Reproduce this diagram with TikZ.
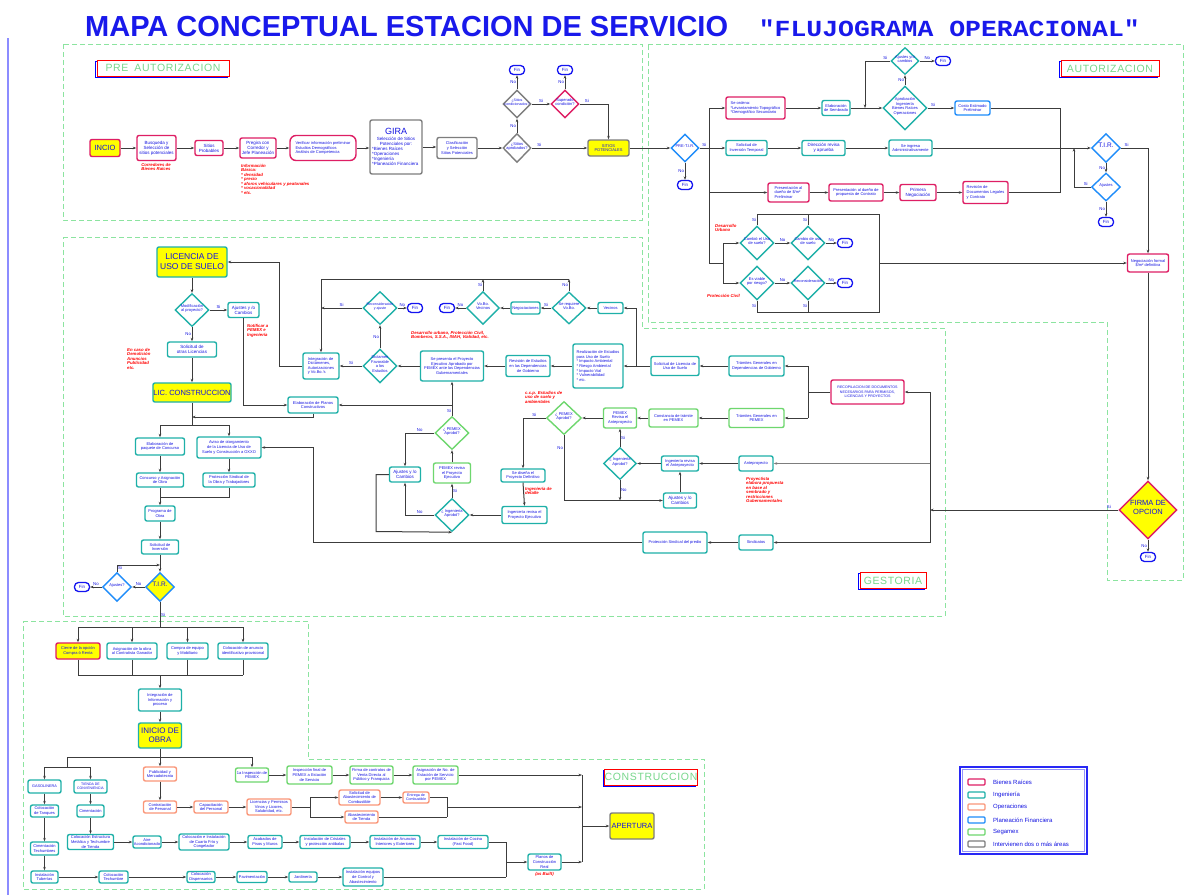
\documentclass[tikz,border=0pt]{standalone}
\usepackage{fontspec}
\setmainfont{Liberation Sans}
\setmonofont{Liberation Mono}
\usetikzlibrary{shapes.geometric,arrows.meta}
\definecolor{cBR}{RGB}{222,30,100}
\definecolor{cIng}{RGB}{30,176,168}
\definecolor{cOp}{RGB}{250,150,120}
\definecolor{cPF}{RGB}{30,140,250}
\definecolor{cSeg}{RGB}{110,215,110}
\definecolor{cGr}{RGB}{125,125,125}
\definecolor{cT}{RGB}{20,20,225}
\definecolor{cFin}{RGB}{20,20,240}
\definecolor{cY}{RGB}{255,255,0}
\definecolor{cL}{RGB}{60,60,60}
\definecolor{cFr}{RGB}{140,228,160}
\definecolor{cRT}{RGB}{120,215,140}
\definecolor{cTi}{RGB}{25,25,235}
\definecolor{cLg}{RGB}{40,40,245}
\definecolor{cLb}{RGB}{140,140,255}
\newcommand{\bxf}{\fontsize{4.5}{5.1}\selectfont}
\newcommand{\bxs}{\fontsize{4}{4.6}\selectfont}
\newcommand{\dgf}{\fontsize{4}{4.6}\selectfont}
\newcommand{\ntf}{\fontsize{4.3}{4.5}\selectfont\bfseries\itshape}
\newcommand{\dtx}[1]{\makebox[0pt]{\smash{\begin{tabular}{@{}c@{}}#1\end{tabular}}}}
\begin{document}
\begin{tikzpicture}[x=1pt,y=-1pt,
 sz/.style 2 args={minimum width=#1pt, minimum height=#2pt},
 bx/.style={rectangle, rounded corners=2pt, line width=1.4pt, fill=white, text=cT, font=\bxf, align=center, inner sep=0.5pt},
 br/.style={bx, draw=cBR}, ing/.style={bx, draw=cIng}, op/.style={bx, draw=cOp},
 pf/.style={bx, draw=cPF}, sg/.style={bx, draw=cSeg}, gr/.style={bx, draw=cGr},
 dm/.style={diamond, line width=1.4pt, fill=white, text=cT, font=\dgf, inner sep=0pt},
 fin/.style={rectangle, rounded corners=4pt, draw=cFin, line width=1.3pt, fill=white, text=cT, font=\bxf, minimum width=15pt, minimum height=9pt, inner sep=0pt},
 ar/.style={draw=cL, line width=1pt, -{Stealth[length=3.5pt,width=2.6pt]}},
 ln/.style={draw=cL, line width=1pt},
 lb/.style={text=cT, font=\fontsize{4.3}{4.3}\selectfont, inner sep=0.6pt},
 nt/.style={text=red, font=\ntf, align=left, inner sep=0pt},
 reg/.style={draw=cFr, line width=0.9pt, dash pattern=on 5pt off 3pt},
 rlabB/.style={draw=blue, line width=0.9pt, minimum height=16pt, inner sep=0},
 rlab/.style={draw=red, line width=0.8pt, fill=white, minimum height=16pt, inner sep=0, text=cRT, font=\fontsize{10.5}{11}\selectfont\addfontfeature{LetterSpace=6}}
]
\fill[white] (0,0) rectangle (1186,895);
\useasboundingbox (0,0) rectangle (1186,895);

% ---------- frames ----------
\draw[reg] (63,44) rectangle (642,220);
\draw[reg] (648,44) -- (1183,44) -- (1183,580) -- (1107,580) -- (1107,322) -- (648,322) -- cycle;
\draw[reg] (63,237) -- (642,237) -- (642,328) -- (945,328) -- (945,616) -- (63,616) -- cycle;
\draw[reg] (23,621) -- (308,621) -- (308,759) -- (704,759) -- (704,889) -- (23,889) -- cycle;
\draw[cLb, line width=1.5pt] (8,38) -- (8,895);

% ---------- title ----------
\node[anchor=west, text=cTi, font=\fontsize{29}{30}\selectfont\bfseries, inner sep=0] (t1) at (85,27) {MAPA CONCEPTUAL ESTACION DE SERVICIO};
\node[anchor=east, text=cTi, font=\fontsize{23}{24}\selectfont\ttfamily\bfseries, inner sep=0] (t2) at (1140,28) {\scalebox{1.15}[1]{"FLUJOGRAMA OPERACIONAL"}};

% ---------- region labels ----------
\node[rlabB, minimum width=132pt] (lpreB) at (161.7,69.3) {};
\node[rlab, minimum width=132pt] (lpre) at (163,68) {PRE\hspace{6pt}AUTORIZACION};
\node[rlabB, minimum width=98pt] (lautB) at (1108.7,69.8) {};
\node[rlab, minimum width=98pt] (laut) at (1110,68.5) {AUTORIZACION};
\node[rlabB, minimum width=66pt] (lgesB) at (891.7,581.8) {};
\node[rlab, minimum width=66pt] (lges) at (893,580.5) {GESTORIA};
\node[rlabB, minimum width=92pt] (lconB) at (649.7,778.3) {};
\node[rlab, minimum width=92pt] (lcon) at (651,777) {CONSTRUCCION};

% ================= PRE AUTORIZACION =================
\node[br, fill=cY, sz={30}{17}, font=\fontsize{7.5}{8}\selectfont] (inicio) at (105,148) {INCIO};
\node[br, sz={39}{25}] (busq) at (156.5,148) {Busqueda y\\Selección de\\sitios potenciales};
\node[br, sz={28}{15}] (sitprob) at (209,148) {Sitios\\Probables};
\node[br, sz={36}{20}] (pregira) at (258,148) {Pregira con\\Corredor y\\Jefe Planeación};
\node[br, sz={66}{25}, rounded corners=6pt, align=left, font=\bxs] (verif) at (323,148) {Verificar información preliminar\\Estudios Demográficos\\Análisis de Competencia};
\node[gr, sz={52}{54}] (gira) at (396,147) {\parbox{48pt}{\centering{\fontsize{9}{10}\selectfont GIRA}\\[1pt]Selección de Sitios\\Potenciales por:\par\raggedright{}*Bienes Raíces\\{}*Operaciones\\{}*Ingeniería\\{}*Planeación Financiera}};
\node[gr, sz={40}{21}, font=\bxs] (clasif) at (457,148) {Clasificación\\y Selección\\Sitios Potenciales};
\node[dm, draw=cGr, sz={28}{29}] (dapr) at (517,148) {\dtx{¿Sitios\\aprobados?}};
\node[dm, draw=cGr, sz={28}{28}, font=\fontsize{3.6}{4.2}\selectfont] (dcond) at (517,104) {\dtx{¿Sitios\\condicionados?}};
\node[dm, draw=cBR, sz={28}{28}] (dsup) at (565,104) {\dtx{Superado\\condición?}};
\node[fin] (fin1) at (517,70) {Fin};
\node[fin] (fin2) at (565,70) {Fin};
\node[gr, fill=cY, sz={41}{16}, font=\bxs] (sitpot) at (608.5,148) {SITIOS\\POTENCIALES};
\node[nt, align=center, anchor=north] (n1) at (156,163) {Corredores de\\Bienes Raíces};
\node[nt, anchor=north west] (n2) at (241,164) {Información\\Básica:\\{}* densidad\\{}* precio\\{}* aforos vehiculares y peatonales\\{}* vocacionalidad\\{}* etc.};

\draw[ar] (inicio.east) -- (busq.west);
\draw[ar] (busq.east) -- (sitprob.west);
\draw[ar] (sitprob.east) -- (pregira.west);
\draw[ar] (pregira.east) -- (verif.west);
\draw[ar] (verif.east) -- (verif.east -| gira.west);
\draw[ar] (gira.east) -- (gira.east -| clasif.west);
\draw[ar] (clasif.east) -- (dapr.west);
\draw[ar] (dapr.east) -- node[lb, pos=0.08, above right]{Si} (sitpot.west);
\draw[ar] (dapr.north) -- node[lb, left]{No} (dcond.south);
\draw[ar] (dcond.north) -- node[lb, left]{No} (fin1.south);
\draw[ar] (dcond.east) -- node[lb, above]{Si} (dsup.west);
\draw[ar] (dsup.north) -- node[lb, left]{No} (fin2.south);
\draw[ar] (dsup.east) -- node[lb, above, pos=0.25]{Si} (608.5,104) -- (sitpot.north);

% ================= AUTORIZACION =================
\node[dm, draw=cPF, sz={28}{28}] (pretir) at (685,148) {\dtx{PRE-T.I.R.}};
\node[fin] (fin3) at (685,185) {Fin};
\node[br, sz={59}{22}, align=left, font=\bxs] (ordena) at (755.5,108) {Se ordena:\\{}*Levantamiento Topográfico\\{}*Demográfico Secundario};
\node[ing, sz={28}{15}, font=\bxs] (sembr) at (836,108) {Elaboración\\de Sembrado};
\node[dm, draw=cIng, sz={44}{44}] (daprob) at (905,108) {\dtx{Aprobación\\Ingeniería\\Bienes Raíces\\Operaciones}};
\node[dm, draw=cIng, sz={28}{27}] (dajus1) at (905,61) {\dtx{Ajustes y/o\\cambios}};
\node[fin] (fin4) at (943,61) {Fin};
\node[pf, sz={35}{14}, font=\bxs] (costo) at (972.5,108) {Costo Estimado\\Preliminar};
\node[ing, sz={41}{15}, font=\bxs] (solinv) at (746.5,148) {Solicitud de\\Inversión Temporal};
\node[ing, sz={43}{15}] (dirrev) at (823.5,148) {Dirección revisa\\y aprueba};
\node[ing, sz={43}{16}, font=\bxs] (ingadm) at (910.5,148) {Se ingresa\\Administrativamente};
\node[dm, draw=cPF, sz={29}{29}, font=\fontsize{6.5}{7}\selectfont] (tir) at (1106,148) {\dtx{T.I.R.}};
\node[dm, draw=cPF, sz={29}{28}] (dajus2) at (1106,187) {\dtx{Ajustes}};
\node[fin] (fin5) at (1106,222) {Fin};
\node[br, sz={41}{19}, align=left, font=\bxs] (pres1) at (788.5,192.5) {Presentación al\\dueño de \$/m²\\Preliminar};
\node[br, sz={54}{17}, font=\bxs] (pres2) at (856,192.5) {Presentación al dueño de\\propuesta de Contrato};
\node[br, sz={36}{16}] (primneg) at (918,192.5) {Primera\\Negociación};
\node[br, sz={45}{22}, align=left, font=\bxs] (revdoc) at (985.5,192.5) {Revisión de\\Documentos Legales\\y Contrato};
\node[br, sz={41}{18}, font=\bxs] (negform) at (1148,263) {Negociación formal\\\$/m² definitiva};
\node[dm, draw=cIng, sz={34}{34}] (dcamb) at (757,243) {\dtx{Cambió el Uso\\de suelo?}};
\node[dm, draw=cIng, sz={34}{34}] (dcamb2) at (808,243) {\dtx{Cambio de uso\\de suelo}};
\node[fin] (fin6) at (845,243) {Fin};
\node[dm, draw=cIng, sz={34}{34}] (dviab) at (757,283) {\dtx{Es viable\\por riesgo?}};
\node[dm, draw=cIng, sz={34}{34}, font=\fontsize{3.8}{4.2}\selectfont] (drec) at (808,283) {\dtx{Reconsideración}};
\node[fin] (fin7) at (845,283) {Fin};
\node[dm, draw=cBR, fill=cY, sz={58}{58}, font=\fontsize{7.5}{9}\selectfont] (firma) at (1148,510) {\dtx{FIRMA DE\\OPCION}};
\node[fin] (fin8) at (1148,557) {Fin};
\node[nt, anchor=north west] (n3) at (715,224) {Desarrollo\\Urbano};
\node[nt, anchor=north west] (n4) at (707,294) {Protección Civil};

\draw[ar] (sitpot.east) -- (pretir.west);
\draw[ar] (pretir.south) -- node[lb, left]{No} (fin3.north);
\draw[ln] (pretir.east) -- node[lb, above]{Si} (709,148);
\draw[ln] (709,108) -- (709,263) -- (723,263);
\draw[ln] (723,243) -- (723,283);
\draw[ar] (709,108) -- (ordena.west);
\draw[ar] (ordena.east) -- (sembr.west);
\draw[ar] (sembr.east) -- (daprob.west);
\draw[ar] (dajus1.west) -- node[lb, above, pos=0.2]{Si} (865,61) -- (865,108);
\draw[ar] (daprob.north) -- node[lb, left]{No} (dajus1.south);
\draw[ar] (dajus1.east) -- node[lb, above]{No} (fin4.west);
\draw[ar] (daprob.east) -- node[lb, above, pos=0.2]{Si} (costo.west);
\draw[ln] (costo.east) -| (1060,192.5);
\draw[ln] (revdoc.east) -- (1060,192.5);
\draw[ar] (709,148) -- (solinv.west);
\draw[ar] (solinv.east) -- (dirrev.west);
\draw[ar] (dirrev.east) -- (ingadm.west);
\draw[ar] (ingadm.east) -- (tir.west);
\draw[ar] (709,192.5) -- (pres1.west);
\draw[ar] (pres1.east) -- (pres2.west);
\draw[ar] (pres2.east) -- (primneg.west);
\draw[ar] (primneg.east) -- (revdoc.west);
\draw[ar] (tir.south) -- node[lb, left]{No} (dajus2.north);
\draw[ar] (dajus2.west) -- node[lb, above, pos=0.3]{Si} (1074,187) -- (1074,148);
\draw[ar] (dajus2.south) -- node[lb, left]{No} (fin5.north);
\draw[ar] (tir.east) -- node[lb, above, pos=0.2]{Si} (1148,148) -- (negform.north);
\draw[ar] (723,243) -- (dcamb.west);
\draw[ar] (723,283) -- (dviab.west);
\draw[ar] (dcamb.east) -- node[lb, above]{No} (dcamb2.west);
\draw[ar] (dcamb2.east) -- node[lb, above]{No} (fin6.west);
\draw[ar] (dviab.east) -- node[lb, above]{No} (drec.west);
\draw[ar] (drec.east) -- node[lb, above]{No} (fin7.west);
\draw[ln] (dcamb.north) -- node[lb, left]{Si} (757,214) -- (879,214) -- (879,312) -- (757,312) -- node[lb, left]{Si} (dviab.south);
\draw[ln] (dcamb2.north) -- node[lb, left]{Si} (808,214);
\draw[ln] (drec.south) -- node[lb, left]{Si} (808,312);
\draw[ar] (879,263) -- (negform.west);
\draw[ar] (negform.south) -- (firma.north);
\draw[ar] (firma.south) -- node[lb, left]{No} (fin8.north);
\draw[ar] (firma.west) -- node[lb, above, pos=0.05]{Si} (930,510);
\draw[ln] (930,392) -- (930,542.5);

% ================= GESTORIA =================
\node[ing, fill=cY, sz={70}{30}, font=\fontsize{8.5}{10}\selectfont] (licuso) at (192,262) {LICENCIA DE\\USO DE SUELO};
\node[dm, draw=cIng, sz={34}{33}] (dmod) at (192,310) {\dtx{Modificación\\al proyecto?}};
\node[ing, sz={31}{15}] (ajus1) at (243.5,310) {Ajustes y /o\\Cambios};
\node[ing, sz={49}{15}] (solotr) at (192,349.5) {Solicitud de\\otras Licencias};
\node[ing, fill=cY, sz={73}{19}, font=\fontsize{7.5}{8}\selectfont] (liccons) at (192,392.5) {LIC. CONSTRUCCION};
\node[ing, sz={49}{17}, font=\bxs] (paq) at (160,446.5) {Elaboración de\\paquete de Concurso};
\node[ing, sz={64}{21}, font=\bxs] (aviso) at (229,447.5) {Aviso de otorgamiento\\de la Licencia de Uso de\\Suelo y Construcción a OXXO};
\node[ing, sz={47}{14}, font=\bxs] (conc) at (160,480) {Concurso y Asignación\\de Obra};
\node[ing, sz={52}{14}, font=\bxs] (protobra) at (229,480) {Protección Sindical de\\la Obra y Trabajadores};
\node[ing, sz={30}{15}, font=\bxs] (prog) at (160,513.5) {Programa de\\Obra};
\node[ing, sz={37}{14}, font=\bxs] (solinv2) at (160,547) {Solicitud de\\Inversión};
\node[dm, draw=cPF, fill=cY, sz={29}{29}, font=\fontsize{6.5}{7}\selectfont] (tir2) at (160,587) {\dtx{T.I.R.}};
\node[dm, draw=cPF, sz={29}{29}] (dajus3) at (117,587) {\dtx{Ajustes?}};
\node[fin] (fin9) at (82,587) {Fin};
\node[ing, sz={36}{26}, align=left, font=\bxs] (integ) at (321,366) {Integración de\\Dictámenes,\\Autorizaciones\\y Vo.Bo.'s};
\node[dm, draw=cIng, sz={34}{34}] (ddict) at (380,366) {\dtx{Dictamen\\Favorable\\a los\\Estudios}};
\node[dm, draw=cIng, sz={34}{33}, font=\fontsize{3.6}{4.2}\selectfont] (drecons) at (380,308) {\dtx{Reconsideración\\y ajuste}};
\node[fin] (fin10) at (415,308) {Fin};
\node[fin] (fin11) at (447,308) {Fin};
\node[dm, draw=cIng, sz={33}{33}] (dvobo) at (483,308) {\dtx{Vo.Bo.\\Vecinos}};
\node[ing, sz={29}{12}, font=\bxs] (negoc) at (525.5,308) {Negociaciones};
\node[dm, draw=cIng, sz={34}{32}] (dreq) at (569,308) {\dtx{Se requiere\\Vo.Bo.}};
\node[ing, sz={25}{11}, font=\bxs] (vecinos) at (610.5,308) {Vecinos};
\node[ing, sz={63}{30}, font=\bxs] (presenta) at (452,366) {Se presenta el Proyecto\\Ejecutivo Aprobado por\\PEMEX ante las Dependencias\\Gubernamentales};
\node[ing, sz={44}{21}, font=\bxs] (revest) at (528,366) {Revisión de Estudios\\en las Dependencias\\de Gobierno};
\node[ing, sz={50}{44}, align=left, font=\bxs] (realiz) at (598,366) {Realización de Estudios\\para Uso de Suelo\\{}* Impacto Ambiental\\{}* Riesgo Ambiental\\{}* Impacto Vial\\{}* Vulnerabilidad\\{}* etc.};
\node[ing, sz={48}{19}, font=\bxs] (sollic) at (675,366) {Solicitud de Licencia de\\Uso de Suelo};
\node[ing, sz={55}{20}, font=\bxs] (tramdep) at (756.5,366) {Trámites Generales en\\Dependencias de Gobierno};
\node[sg, sz={55}{19}, font=\bxs] (tramPEM) at (756.5,418) {Trámites Generales en\\PEMEX};
\node[br, sz={73}{24}, font=\fontsize{3.6}{4.6}\selectfont] (recop) at (867.5,392) {RECOPILACION DE DOCUMENTOS\\NECESARIOS PARA PERMISOS,\\LICENCIAS Y PROYECTOS};
\node[ing, sz={50}{16}, font=\bxs] (planos) at (313,405) {Elaboración de Planos\\Constructivos};
\node[dm, draw=cSeg, sz={34}{33}] (dpem1) at (452,433) {\dtx{¿ PEMEX\\Aprobó?}};
\node[ing, sz={31}{15}] (ajus2) at (405,474.5) {Ajustes y /o\\Cambios};
\node[sg, sz={37}{20}, font=\bxs] (pemrev) at (452,473) {PEMEX revisa\\el Proyecto\\Ejecutivo};
\node[dm, draw=cIng, sz={34}{33}] (ding1) at (452,515) {\dtx{¿ Ingeniería\\Aprobó?}};
\node[ing, sz={45}{17}, font=\bxs] (ingrev) at (524.5,515) {Ingeniería revisa el\\Proyecto Ejecutivo};
\node[ing, sz={44}{13}, font=\bxs] (sedis) at (523,475.5) {Se diseña el\\Proyecto Definitivo};
\node[dm, draw=cSeg, sz={35}{33}] (dpem2) at (564,418) {\dtx{¿ PEMEX\\Aprobó?}};
\node[sg, sz={33}{20}, font=\bxs] (pemant) at (620,418) {PEMEX\\Revisa el\\Anteproyecto};
\node[sg, sz={49}{18}, font=\bxs] (const) at (673.5,418) {Constancia de trámite\\en PEMEX};
\node[dm, draw=cIng, sz={33}{32}] (ding2) at (620,463.5) {\dtx{¿ Ingeniería\\Aprobó?}};
\node[ing, sz={37}{15}, font=\bxs] (ingant) at (680,463.5) {Ingeniería revisa\\el Anteproyecto};
\node[ing, sz={34}{15}, font=\bxs] (antep) at (756,463.5) {Anteproyecto};
\node[ing, sz={33}{15}] (ajus3) at (680,500.5) {Ajustes y /o\\Cambios};
\node[ing, sz={34}{15}, font=\bxs] (sind) at (756,542.5) {Sindicatos};
\node[ing, sz={64}{21}, font=\bxs] (protpre) at (675,542.5) {Protección Sindical del predio};

\node[nt, anchor=north west] (n5) at (247,324) {Notificar a\\PEMEX e\\Ingeniería};
\node[nt, anchor=north west] (n6) at (127,348) {En caso de\\Demolición\\Anuncios\\Publicidad\\etc.};
\node[nt, anchor=north west] (n7) at (411,331) {Desarrollo urbano, Protección Civil,\\Bomberos, S.S.A., INAH, Vialidad, etc.};
\node[nt, anchor=north west] (n8) at (525,391) {c.c.p. Estudios de\\uso de suelo y\\ambientales};
\node[nt, anchor=north west] (n9) at (525,487) {Ingeniería de\\detalle};
\node[nt, anchor=north west] (n10) at (746,477) {Proyectista\\elabora propuesta\\en base al\\sembrado y\\restricciones\\Gubernamentales};

\draw[ar] (licuso.south) -- (dmod.north);
\draw[ar] (dmod.east) -- node[lb, above]{Si} (ajus1.west);
\draw[ar] (dmod.south) -- node[lb, left]{No} (solotr.north);
\draw[ar] (solotr.south) -- (liccons.north);
\draw[ar] (ajus1.south) |- (planos.west);
\draw[ar] (planos.south) |- (192,417);
\draw[ln] (liccons.south) -- (192,425);
\draw[ln] (160,425) -- (229,425);
\draw[ar] (160,425) -- (paq.north);
\draw[ar] (229,425) -- (aviso.north);
\draw[ar] (paq.south) -- (conc.north);
\draw[ar] (aviso.south) -- (protobra.north);
\draw[ln] (conc.south) -- (160,497);
\draw[ln] (protobra.south) |- (160,497);
\draw[ar] (160,497) -- (prog.north);
\draw[ar] (prog.south) -- (solinv2.north);
\draw[ar] (solinv2.south) -- (tir2.north);
\draw[ar] (dajus3.north) -- node[lb, right]{Si} (117,565) -- (160,565);
\draw[ar] (tir2.west) -- node[lb, above]{No} (dajus3.east);
\draw[ar] (dajus3.west) -- node[lb, above]{No} (fin9.east);
\draw[ar] (integ.west) -- (279,366) -- (279,262) -- (licuso.east);
\draw[ar] (ddict.west) -- node[lb, above]{Si} (integ.east);
\draw[ar] (ddict.north) -- node[lb, left]{No} (drecons.south);
\draw[ar] (drecons.west) -- node[lb, above]{Si} (321,308);
\draw[ar] (drecons.east) -- node[lb, above]{No} (fin10.west);
\draw[ar] (569,279) -- (321,279) -- (integ.north);
\draw[ar] (dvobo.north) -- node[lb, left]{Si} (483,279);
\draw[ar] (dreq.north) -- node[lb, left]{No} (569,279);
\draw[ar] (dvobo.west) -- node[lb, above]{No} (fin11.east);
\draw[ar] (negoc.west) -- (dvobo.east);
\draw[ar] (dreq.west) -- node[lb, above]{Si} (negoc.east);
\draw[ar] (vecinos.west) -- (dreq.east);
\draw[ar] (sollic.west) -- (realiz.east);
\draw[ar] (636,366) -- (636,308) -- (vecinos.east);
\draw[ar] (tramdep.west) -- (sollic.east);
\draw[ln] (recop.west) -- (808,392);
\draw[ln] (808,366) -- (808,418);
\draw[ar] (808,366) -- (tramdep.east);
\draw[ar] (808,418) -- (tramPEM.east);
\draw[ar] (930,392) -- (recop.east);
\draw[ar, draw=cGr] (930,463.5) -- (antep.east);
\draw[ar] (930,542.5) -- (sind.east);
\draw[ar] (realiz.west) -- (revest.east);
\draw[ar] (revest.west) -- (presenta.east);
\draw[ar] (presenta.west) -- (ddict.east);
\draw[ar] (dpem1.north) -- node[lb, left, pos=0.15]{Si} (presenta.south);
\draw[ar] (452,405) -- (planos.east);
\draw[ar] (dpem1.west) -- node[lb, above]{No} (405,433) -- (ajus2.north);
\draw[ar] (pemrev.north) -- (dpem1.south);
\draw[ar] (ding1.north) -- node[lb, right]{Si} (pemrev.south);
\draw[ar] (ding1.west) -- node[lb, above]{No} (405,515) -- (ajus2.south);
\draw[ar] (ajus2.west) -- (376,474.5) -- (376,531.5) -- (ding1.south);
\draw[ar] (ingrev.west) -- (ding1.east);
\draw[ar] (sedis.south) -- (ingrev.north);
\draw[ar] (dpem2.west) -- node[lb, above]{Si} (523,418) -- (sedis.north);
\draw[ar] (dpem2.south) -- node[lb, left, pos=0.2]{No} (564,500.5) -- (ajus3.west);
\draw[ar] (ding2.south) -- node[lb, right]{No} (620,500.5);
\draw[ar] (pemant.west) -- (dpem2.east);
\draw[ar] (const.west) -- (pemant.east);
\draw[ar] (tramPEM.west) -- (const.east);
\draw[ar] (ding2.north) -- node[lb, right]{Si} (pemant.south);
\draw[ar] (ingant.west) -- (ding2.east);
\draw[ar] (antep.west) -- (ingant.east);
\draw[ar] (ajus3.north) -- (ingant.south);
\draw[ar] (sind.west) -- (protpre.east);
\draw[ar] (protpre.west) -- (313,542.5) -- (313,447.5) -- (aviso.east);

% ================= CONSTRUCCION =================
\node[br, fill=cY, sz={44}{16}, font=\bxs] (cierre) at (78,651) {Cierre de la opción\\Compra ó Renta};
\node[ing, sz={50}{16}, font=\bxs] (asig) at (132,651) {Asignación de la obra\\al Contratista Ganador};
\node[ing, sz={41}{16}, font=\bxs] (compra) at (187.5,651) {Compra de equipo\\y Mobiliario};
\node[ing, sz={50}{16}, font=\bxs] (coloc) at (243,651) {Colocación de anuncio\\identificativo provisional};
\node[ing, sz={43}{22}, font=\bxs] (integ2) at (160,700) {Integración de\\Información y\\proceso};
\node[ing, fill=cY, sz={43}{25}, font=\fontsize{8}{9}\selectfont] (inobra) at (160,735.5) {INICIO DE\\OBRA};
\node[ing, sz={33}{13}, font=\fontsize{3.8}{4.4}\selectfont] (gas) at (44.5,786.5) {GASOLINERA};
\node[ing, sz={33}{13}, font=\fontsize{3.5}{4}\selectfont] (tienda) at (90.5,786.5) {TIENDA DE\\CONVENIENCIA};
\node[op, sz={33}{14}, font=\bxs] (publ) at (160,774) {Publicidad y\\Mercadotecnia};
\node[sg, sz={33}{14}, font=\bxs] (insp1) at (252,775) {1a Inspección de\\PEMEX};
\node[sg, sz={45}{18}, font=\bxs] (inspf) at (309.5,775) {Inspección final de\\PEMEX a Estación\\de Servicio};
\node[sg, sz={43}{18}, font=\bxs] (firmac) at (371.5,775) {Firma de contratos de\\Venta Directa al\\Público y Franquicia};
\node[sg, sz={45}{18}, font=\bxs] (asigno) at (435.5,775) {Asignación de No. de\\Estación de Servicio\\por PEMEX};
\node[ing, sz={28}{12}, font=\bxs] (tanq) at (44.5,811) {Colocación\\de Tanques};
\node[ing, sz={27}{12}, font=\bxs] (cim) at (90.5,811) {Cimentación};
\node[op, sz={33}{12}, font=\bxs] (contr) at (160,807) {Contratación\\de Personal};
\node[op, sz={34}{12}, font=\bxs] (capac) at (211,807) {Capacitación\\del Personal};
\node[op, sz={44}{16}, font=\bxs] (licper) at (269,807) {Licencias y Permisos\\Vinos y Licores,\\Salubridad, etc.};
\node[op, sz={41}{15}, font=\bxs] (solab) at (359.5,797.5) {Solicitud de\\Abastecimiento de\\Combustible};
\node[op, sz={26}{11}, font=\fontsize{3.6}{4.2}\selectfont] (entrega) at (416,797.5) {Entrega de\\Combustible};
\node[op, sz={33}{12}, font=\bxs] (abast) at (361.5,817) {Abastecimiento\\de Tienda};
\node[ing, sz={28}{13}, font=\bxs] (cimtech) at (44.5,848.5) {Cimentación\\Techumbres};
\node[ing, sz={46}{15}, font=\bxs] (estr) at (90.5,842) {Colocación Estructura\\Metálica y Techumbre\\de Tienda};
\node[ing, sz={28}{12}, font=\bxs] (aire) at (147,842) {Aire\\Acondicionado};
\node[ing, sz={50}{16}, font=\bxs] (cuarto) at (204,842) {Colocación e Instalación\\de Cuarto Frío y\\Congelador};
\node[ing, sz={34}{13}, font=\bxs] (acab) at (265,842) {Acabados de\\Pisos y Muros};
\node[ing, sz={50}{13}, font=\bxs] (crist) at (325,842) {Instalación de Cristales\\y protección antibalas};
\node[ing, sz={50}{13}, font=\bxs] (anunc) at (395,842) {Instalación de Anuncios\\Interiores y Exteriores};
\node[ing, sz={50}{13}, font=\bxs] (cocina) at (463,842) {Instalación de Cocina\\(Fast Food)};
\node[ing, sz={27}{12}, font=\bxs] (tub) at (44.5,877) {Instalación\\Tuberías};
\node[ing, sz={29}{12}, font=\bxs] (techum) at (113.5,877) {Colocación\\Techumbre};
\node[ing, sz={28}{11}, font=\bxs] (pabil) at (201,877) {Colocación\\Dispensarios};
\node[ing, sz={30}{11}, font=\bxs] (pavim) at (252,877) {Pavimentación};
\node[ing, sz={28}{10}, font=\bxs] (jard) at (303,877) {Jardinería};
\node[ing, sz={40}{18}, font=\bxs] (instq) at (363,877) {Instalación equipos\\de Control y\\Abastecimiento};
\node[ing, sz={33}{16}, font=\bxs] (planr) at (544.5,862) {Planos de\\Construcción\\Real};
\node[nt, anchor=north] (n11) at (544.5,872) {(as Built)};
\node[gr, fill=cY, sz={44}{26}, font=\fontsize{7.5}{8}\selectfont] (apert) at (632,826) {APERTURA};

\draw[ln] (tir2.south) -- node[lb, right]{Si} (160,627);
\draw[ln] (78,627) -- (243,627);
\draw[ar] (78,627) -- (cierre.north);
\draw[ar] (132,627) -- (asig.north);
\draw[ar] (187.5,627) -- (compra.north);
\draw[ar] (243,627) -- (coloc.north);
\draw[ln] (cierre.south) -- (78,675);
\draw[ln] (asig.south) -- (132,675);
\draw[ln] (compra.south) -- (187.5,675);
\draw[ln] (coloc.south) -- (243,675);
\draw[ln] (78,675) -- (243,675);
\draw[ar] (160,675) -- (integ2.north);
\draw[ar] (integ2.south) -- (inobra.north);
\draw[ln] (inobra.south) -- (160,757);
\draw[ln] (67,757) -- (252,757);
\draw[ln] (67,757) -- (67,767);
\draw[ln] (44.5,767) -- (90.5,767);
\draw[ar] (44.5,767) -- (gas.north);
\draw[ar] (90.5,767) -- (tienda.north);
\draw[ar] (160,757) -- (publ.north);
\draw[ar] (252,757) -- (insp1.north);
\draw[ar] (gas.south) -- (tanq.north);
\draw[ar] (tanq.south) -- (cimtech.north);
\draw[ar] (cimtech.south) -- (tub.north);
\draw[ar] (tienda.south) -- (cim.north);
\draw[ar] (cim.south) -- (estr.north);
\draw[ar] (publ.south) -- (contr.north);
\draw[ar] (tub.east) -- (techum.west);
\draw[ar] (techum.east) -- (pabil.west);
\draw[ar] (pabil.east) -- (pavim.west);
\draw[ar] (pavim.east) -- (jard.west);
\draw[ar] (jard.east) -- (instq.west);
\draw[ar] (estr.east) -- (aire.west);
\draw[ar] (aire.east) -- (cuarto.west);
\draw[ar] (cuarto.east) -- (acab.west);
\draw[ar] (acab.east) -- (crist.west);
\draw[ar] (crist.east) -- (anunc.west);
\draw[ar] (anunc.east) -- (cocina.west);
\draw[ar] (contr.east) -- (capac.west);
\draw[ar] (capac.east) -- (licper.west);
\draw[ln] (licper.east) -- (310,807);
\draw[ln] (310,797.5) -- (310,817);
\draw[ar] (310,797.5) -- (solab.west);
\draw[ar] (310,817) -- (abast.west);
\draw[ar] (solab.east) -- (entrega.west);
\draw[ln] (entrega.east) -- (447,797.5) -- (447,817);
\draw[ln] (abast.east) -- (447,817);
\draw[ar] (447,807) -- (582,807);
\draw[ar] (insp1.east) -- (inspf.west);
\draw[ar] (inspf.east) -- (firmac.west);
\draw[ar] (firmac.east) -- (asigno.west);
\draw[ar] (asigno.east) -- (582,775);
\draw[ln] (cocina.east) -- (506,842);
\draw[ln] (instq.east) -- (506,877);
\draw[ln] (506,842) -- (506,877);
\draw[ar] (506,862) -- (planr.west);
\draw[ar] (planr.east) -- (582,862);
\draw[ln] (582,775) -- (582,862);
\draw[ar] (582,826) -- (apert.west);

% ================= LEGEND =================
\node[draw=cLg, line width=1.6pt, minimum width=127pt, minimum height=87pt, inner sep=0] (leg) at (1023.5,810.5) {};
\node[draw=cLg!50, line width=0.5pt, minimum width=122pt, minimum height=82pt, inner sep=0] (leg2) at (1023.5,810.5) {};
\foreach \c/\t/\yy [count=\i] in {cBR/Bienes Raíces/782, cIng/Ingeniería/795, cOp/Operaciones/807, cPF/Planeación Financiera/820, cSeg/Segamex/832, cGr/Intervienen dos o más áreas/844}{
  \node[draw=\c, line width=1.3pt, rounded corners=1pt, minimum width=17pt, minimum height=6pt, inner sep=0, fill=white] (sw\i) at (976.5,\yy) {};
  \node[anchor=west, text=cT, font=\fontsize{6}{6}\selectfont, inner sep=0] (lt\i) at (993,\yy) {\t};
}
\end{tikzpicture}
\end{document}
